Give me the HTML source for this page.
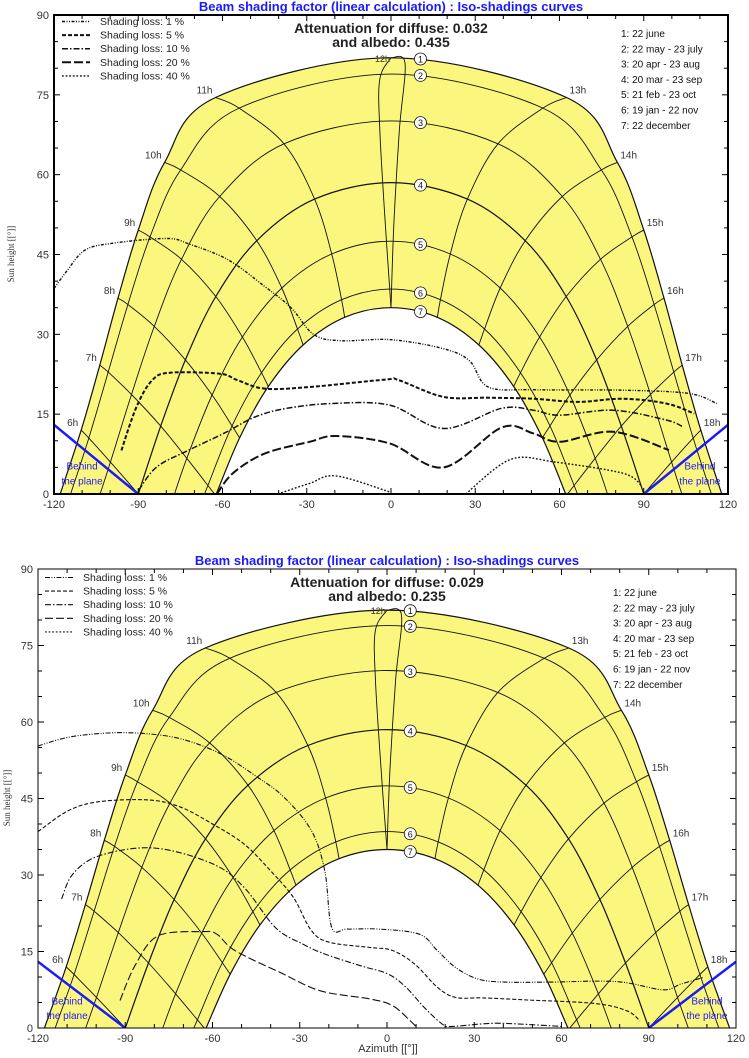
<!DOCTYPE html>
<html><head><meta charset="utf-8"><style>
body{margin:0;background:#fff;}
svg{display:block;font-family:"Liberation Sans",sans-serif;}
</style></head><body>
<svg id="root" width="749" height="1058" viewBox="0 0 749 1058" xmlns="http://www.w3.org/2000/svg"></svg>
<script>
// ---- sun path data (per date: H = 0,15,30,45,60,75,90 deg hour angle) ----
const dateLabels = ["1: 22 june","2: 22 may - 23 july","3: 20 apr - 23 aug","4: 20 mar - 23 sep","5: 21 feb - 23 oct","6: 19 jan - 22 nov","7: 22 december"];
const sunAz = [
 [0,62.5,80.6,90,97.2,103.7,110.3],
 [0,54.1,74.9,85.8,93.7,100.7,107.6],
 [0,38.1,61.0,74.6,84.3,92.4,99.9],
 [0,27.2,47.8,62.4,73.2,82.0,90],
 [0,21.1,38.9,52.9,63.7,72.7,null],
 [0,17.6,33.3,46.1,56.6,65.2,null],
 [0,16.5,31.3,43.7,53.9,null,null]];
const sunH = [
 [81.95,74.5,62.3,49.6,36.8,24.2,12.0],
 [78.9,72.5,60.9,48.3,35.6,22.9,10.5],
 [70.1,65.8,55.9,44.1,31.5,18.7,6.0],
 [58.5,55.4,47.6,37.1,25.2,12.75,0],
 [47.5,45.1,38.7,29.5,18.6,6.7,null],
 [38.5,36.5,31.0,22.8,12.8,1.6,null],
 [35.0,33.2,28.0,20.2,10.55,null,null]];
const riseAz = [117.8,114.1,103.6,90,77.1,66.4,62.2];
const hourLabelsAM = ["12h","11h","10h","9h","8h","7h","6h"];
const hourLabelsPM = ["12h","13h","14h","15h","16h","17h","18h"];
const xTickLabels = [-120,-90,-60,-30,0,30,60,90,120];
const yTickLabels = [0,15,30,45,60,75,90];

// ---- top chart iso-shading curves ----
const top1Az = [-120,-115.3,-109,-99.4,-80,-72,-58,-45,-35.6,-27.6,-18,0,18.7,28,34.6,50.6,82.5,106,116];
const top1H  = [38.6,42,45.8,47.1,48,47,44,39,35,30,28.8,29,27.3,25,20.1,19.6,19.5,18.9,17];
const top5Az = [-96,-90.6,-85,-78.6,-61,-54.7,-45,-29,-2,2.7,18.7,34.6,50.6,66.5,82.5,98,108];
const top5H  = [8.2,16.4,21.4,22.8,22.6,21.4,19.8,20.1,21.5,21.4,18.25,18.1,17.9,17.3,17.9,17,15.1];
const top10Az = [-89.8,-83.4,-72,-59.5,-48.3,-37,-21,-0.5,18.7,39.4,50.6,60,79,98,104];
const top10H  = [0.75,5.1,8.25,11.4,14.5,16.1,17,16.7,12.3,16.1,15.75,14.8,15.75,13.9,12.6];
const top20Az = [-62,-56.3,-45,-29,-19.6,-0.5,18.7,39.4,50.6,60,79,99];
const top20H  = [0,3.9,7.6,9.8,10.9,9.5,5,12.5,11.4,9.8,11.7,8.25];
const top40Az = [-40.3,-29,-19.6,-0.5,null,26.6,42.6,58.5,82.5,89];
const top40H  = [0,2,3.4,0.4,null,0,6.5,6,3.9,1.7];

// ---- bottom chart iso-shading curves ----
const bot1Az = [-120,-109.6,-97.2,-84.8,-70.9,-57,-44.6,-35.3,-26,-21.4,-19,-13.6,-2.8,11.1,17.3,23.5,31.3,40.6,56,79,94.7,101,108.7];
const bot1H  = [55.3,57,57.8,57.8,56.7,53.7,49.2,45.2,38.7,30.8,19.7,19.4,19.4,18.4,15.2,11.9,9.6,9,9,9.1,7.5,8.6,9.9];
const bot5Az = [-120,-109.6,-98.8,-81.7,-70.9,-60,-49.2,-40,-32.2,-26,-19.8,-5.9,1.9,9.6,17.3,23.5,32.8,48.3,71.5,82.4,87];
const bot5H  = [38.5,42.6,44.4,44.7,43.3,40,36.1,30.8,25.6,19.1,16.8,15.8,15.2,12.5,8,6,5.9,5.5,4.8,3.4,1.4];
const bot10Az = [-111.9,-108,-98.8,-80.2,-60,-49.2,-38.4,-29.1,-21.4,-9,0.3,6.5,12.7,18.9,22,32.8,40.6,60.7];
const bot10H  = [25.3,30.2,33.8,35.3,32.2,27.6,19.7,16.5,14.5,12.2,10.6,8,4.1,0.8,0.3,0.8,0.9,0.3];
const bot20Az = [-91.8,-86.4,-78.6,-63.2,-58.5,-52.3,-36.8,-22.9,-5.9,1.9,8,10.4];
const bot20H  = [5.4,12.5,18.1,18.9,18.4,15.2,10.9,7.3,5.7,4.4,1.4,0];

const NS="http://www.w3.org/2000/svg";
const root=document.getElementById('root');
function mk(tag,attrs,parent){const e=document.createElementNS(NS,tag);for(const k in attrs)e.setAttribute(k,attrs[k]);(parent||root).appendChild(e);return e;}

function smooth(pts){
  if(pts.length<2)return "";
  let d="M"+pts[0][0].toFixed(1)+","+pts[0][1].toFixed(1);
  for(let i=0;i<pts.length-1;i++){
    const p0=pts[Math.max(0,i-1)],p1=pts[i],p2=pts[i+1],p3=pts[Math.min(pts.length-1,i+2)];
    const c1=[p1[0]+(p2[0]-p0[0])/6,p1[1]+(p2[1]-p0[1])/6];
    const c2=[p2[0]-(p3[0]-p1[0])/6,p2[1]-(p3[1]-p1[1])/6];
    d+="C"+c1[0].toFixed(1)+","+c1[1].toFixed(1)+" "+c2[0].toFixed(1)+","+c2[1].toFixed(1)+" "+p2[0].toFixed(1)+","+p2[1].toFixed(1);
  }
  return d;
}

function drawChart(c){
  const g=mk('g',{},root);
  
  
  const sx=az=>c.x0+(az+120)/240*(c.x1-c.x0);
  const sy=h=>c.yb-h/90*(c.yb-c.yt);
  const clipId='clip'+c.id;
  const cp=mk('clipPath',{id:clipId},g);mk('rect',{x:c.x0,y:c.yt,width:c.x1-c.x0,height:c.yb-c.yt},cp);
  const pg=mk('g',{'clip-path':'url(#'+clipId+')'},g);

  function datePts(i){
    const pts=[[-riseAz[i],0]];
    for(let j=6;j>=1;j--){if(sunH[i][j]!==null&&sunH[i][j]>0.01)pts.push([-sunAz[i][j],sunH[i][j]]);}
    pts.push([0,sunH[i][0]]);
    for(let j=1;j<=6;j++){if(sunH[i][j]!==null&&sunH[i][j]>0.01)pts.push([sunAz[i][j],sunH[i][j]]);}
    pts.push([riseAz[i],0]);
    return pts.map(p=>[sx(p[0]),sy(p[1])]);
  }
  const jp=datePts(0), dp=datePts(6).reverse();
  const fill=mk('path',{d:smooth(jp)+"L"+smooth(dp).slice(1)+"Z",fill:'#fbf77e',stroke:'none'},pg);
  
  
  for(let i=0;i<7;i++){
    const p=mk('path',{d:smooth(datePts(i)),fill:'none',stroke:'#111','stroke-width':(i===0||i===6||i===3)?1.2:0.9},pg);
    
    
  }
  for(let j=1;j<=6;j++){
    for(const s of [-1,1]){
      const pts=[];let lastIdx=-1;
      for(let i=0;i<7;i++){if(sunH[i][j]!==null){pts.push([s*sunAz[i][j],sunH[i][j]]);lastIdx=i;}}
      const L=pts.length;
      if(lastIdx<6&&pts[L-1][1]>0.3&&L>=2){
        const a=pts[L-2],b=pts[L-1];const t=b[1]/(a[1]-b[1]);
        pts.push([b[0]+(b[0]-a[0])*t,0]);
      }
      const p=mk('path',{d:smooth(pts.map(q=>[sx(q[0]),sy(q[1])])),fill:'none',stroke:'#111','stroke-width':0.9},pg);
      
      
      const lab=mk('text',{x:sx(s*sunAz[0][j])+(s<0?-3:3),y:sy(sunH[0][j])-4,'font-size':10,fill:'#333','text-anchor':s<0?'end':'start'},g);
      lab.textContent=s<0?hourLabelsAM[j]:hourLabelsPM[j];
      
      
    }
  }
  const top=sunH[0][0],bot=sunH[6][0];
  const lens1=[[0,top],[-4,top-4],[-4,(top+bot)/2+10],[-2,(top+bot)/2-8],[0,bot]];
  const lens2=[[0,top],[5,top-1],[3,(top+bot)/2+10],[1,(top+bot)/2-8],[0,bot]];
  for(const l of [lens1,lens2]){
    const p=mk('path',{d:smooth(l.map(q=>[sx(q[0]),sy(q[1])])),fill:'none',stroke:'#111','stroke-width':0.9},pg);
    
    
  }
  const nl=mk('text',{x:sx(-3),y:sy(top)+4,'font-size':9,fill:'#333','text-anchor':'middle'},g);nl.textContent='12h';
  
  

  c.curves.forEach(cv=>{
    let seg=[];const segs=[];
    for(let k=0;k<cv.az.length;k++){
      if(cv.az[k]===null){if(seg.length)segs.push(seg);seg=[];}
      else seg.push([sx(cv.az[k]),sy(cv.h[k])]);
    }
    if(seg.length)segs.push(seg);
    segs.forEach(sg=>{
      const p=mk('path',{d:smooth(sg),fill:'none',stroke:'#111','stroke-width':cv.w,'stroke-dasharray':cv.dash},pg);
      
      
    });
  });

  for(const s of [-1,1]){
    const p=mk('line',{x1:sx(s*120),y1:sy(13),x2:sx(s*90),y2:sy(0),stroke:'#1a1aff','stroke-width':2.5},pg);
    
    
    const t1=mk('text',{x:sx(s*110),y:sy(4.6),'font-size':10,fill:'#1a1aff','text-anchor':'middle'},g);t1.textContent='Behind';
    
    
    const t2=mk('text',{x:sx(s*110),y:sy(1.8),'font-size':10,fill:'#1a1aff','text-anchor':'middle'},g);t2.textContent='the plane';
    
    
  }
  for(let i=0;i<7;i++){
    const az=c.markAz, f=az/sunAz[i][1];
    const h=sunH[i][0]+(sunH[i][1]-sunH[i][0])*f*f;
    const cc=mk('circle',{cx:sx(az),cy:sy(h),r:6,fill:'#fff',stroke:'#111','stroke-width':0.8},g);
    
    
    const t=mk('text',{x:sx(az),y:sy(h)+3.5,'font-size':9,'text-anchor':'middle',fill:'#111'},g);t.textContent=String(i+1);
    
    
  }
  const fr=mk('rect',{x:c.x0,y:c.yt,width:c.x1-c.x0,height:c.yb-c.yt,fill:'none',stroke:'#000','stroke-width':c.fw},g);
  
  
  for(let a=-120;a<=120;a+=10){
    const L=(a%30===0)?6:4;
    mk('line',{x1:sx(a),y1:c.yb,x2:sx(a),y2:c.yb-L,stroke:'#000','stroke-width':1},g);
    mk('line',{x1:sx(a),y1:c.yt,x2:sx(a),y2:c.yt+L,stroke:'#000','stroke-width':1},g);
  }
  for(let h=0;h<=90;h+=5){
    const L=(h%15===0)?6:4;
    mk('line',{x1:c.x0,y1:sy(h),x2:c.x0+L,y2:sy(h),stroke:'#000','stroke-width':1},g);
    mk('line',{x1:c.x1,y1:sy(h),x2:c.x1-L,y2:sy(h),stroke:'#000','stroke-width':1},g);
  }
  xTickLabels.forEach(v=>{
    const t=mk('text',{x:sx(v),y:c.yb+14,'font-size':11,fill:'#333','text-anchor':'middle'},g);t.textContent=String(v);
    
    
  });
  yTickLabels.forEach(v=>{
    const t=mk('text',{x:c.x0-5,y:sy(v)+4,'font-size':11,fill:'#333','text-anchor':'end'},g);t.textContent=String(v);
    
    
  });
  const ti=mk('text',{x:(c.x0+c.x1)/2,y:c.yt-4,'font-size':13,'font-weight':'bold',fill:'#1a1aff','text-anchor':'middle'},g);
  ti.textContent='Beam shading factor (linear calculation) : Iso-shadings curves';
  
  
  const a1=mk('text',{x:(c.x0+c.x1)/2,y:c.yt+18,'font-size':14,'font-weight':'bold',fill:'#222','text-anchor':'middle'},g);a1.textContent=c.att1;
  
  
  const a2=mk('text',{x:(c.x0+c.x1)/2,y:c.yt+32,'font-size':14,'font-weight':'bold',fill:'#222','text-anchor':'middle'},g);a2.textContent=c.att2;
  
  
  dateLabels.forEach((s,i)=>{
    const t=mk('text',{x:c.dlx,y:c.dly+i*15.3,'font-size':10,fill:'#111'},g);t.textContent=s;
    
    
  });
  c.curvesLegend.forEach((cv,i)=>{
    const y=c.sly+i*13.6;
    const l=mk('line',{x1:c.slx,y1:y-3.5,x2:c.slx+28,y2:y-3.5,stroke:'#111','stroke-width':cv.w,'stroke-dasharray':cv.dash},g);
    
    
    const t=mk('text',{x:c.slx+38,y:y,'font-size':10.5,fill:'#222'},g);t.textContent=cv.label;
    
    
  });
  return {sx,sy};
}

const st1={w:1.4,dash:'3,1.5,1,1.5,1,1.5'},st5={w:2,dash:'4,2'},st10={w:1.5,dash:'6,2,1.5,2'},st20={w:2,dash:'9,3'},st40={w:1.4,dash:'1.8,1.8'};
const legendTop=[{label:'Shading loss: 1 %',...st1},{label:'Shading loss: 5 %',...st5},{label:'Shading loss: 10 %',...st10},{label:'Shading loss: 20 %',...st20},{label:'Shading loss: 40 %',...st40}];
const b1={w:1.1,dash:'5,1.5,1,1.5,1,1.5'},b5={w:1.1,dash:'4,2'},b10={w:1.1,dash:'6,2,1.5,2'},b20={w:1.1,dash:'8,3'},b40={w:1.1,dash:'1.8,1.8'};
const legendBot=[{label:'Shading loss: 1 %',...b1},{label:'Shading loss: 5 %',...b5},{label:'Shading loss: 10 %',...b10},{label:'Shading loss: 20 %',...b20},{label:'Shading loss: 40 %',...b40}];

drawChart({id:1,name:'top-chart',x0:54,x1:728,yt:15,yb:494,fw:2,markAz:10.5,
  att1:'Attenuation for diffuse: 0.032',att2:'and albedo: 0.435',dlx:621,dly:37,slx:62,sly:25,
  curvesLegend:legendTop,
  curves:[{name:'loss-1pct',az:top1Az,h:top1H,...st1},{name:'loss-5pct',az:top5Az,h:top5H,...st5},
    {name:'loss-10pct',az:top10Az,h:top10H,...st10},{name:'loss-20pct',az:top20Az,h:top20H,...st20},
    {name:'loss-40pct',az:top40Az,h:top40H,...st40}]});
drawChart({id:2,name:'bottom-chart',x0:38,x1:736,yt:569,yb:1028,fw:1,markAz:8,
  att1:'Attenuation for diffuse: 0.029',att2:'and albedo: 0.235',dlx:613,dly:596,slx:45,sly:581,
  curvesLegend:legendBot,
  curves:[{name:'loss-1pct',az:bot1Az,h:bot1H,...b1},{name:'loss-5pct',az:bot5Az,h:bot5H,...b5},
    {name:'loss-10pct',az:bot10Az,h:bot10H,...b10},{name:'loss-20pct',az:bot20Az,h:bot20H,...b20}]});

const yt1=mk('text',{x:0,y:0,'font-size':9,fill:'#333','text-anchor':'middle',transform:'translate(14,254) rotate(-90)','font-family':'Liberation Serif, serif'});
yt1.textContent='Sun height [[°]]';


const yt2=mk('text',{x:0,y:0,'font-size':9,fill:'#333','text-anchor':'middle',transform:'translate(10,798) rotate(-90)','font-family':'Liberation Serif, serif'});
yt2.textContent='Sun height [[°]]';


const xt=mk('text',{x:388,y:1052,'font-size':11,fill:'#333','text-anchor':'middle'});
xt.textContent='Azimuth [[°]]';


</script>
</body></html>
